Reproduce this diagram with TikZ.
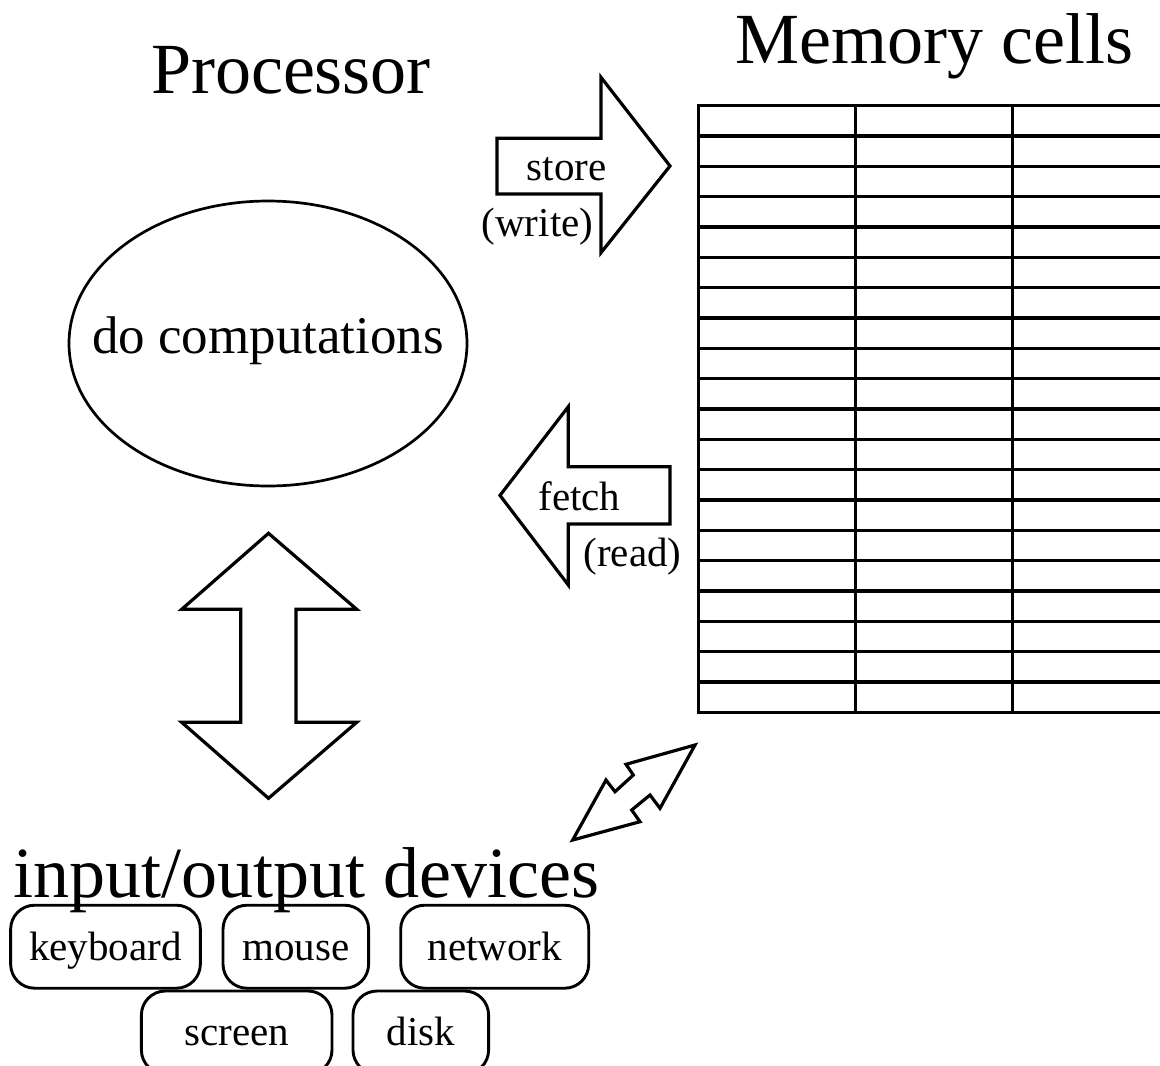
\documentclass[tikz,border=0pt]{standalone}
\usepackage{fontspec}
\setmainfont{Liberation Serif}
\begin{document}
\begin{tikzpicture}[x=1pt,y=-1pt,
  outline/.style={draw=black, line width=3.2pt, line join=miter},
  gridline/.style={draw=black, line width=3.3pt, line cap=rect},
  title/.style={font=\fontsize{72}{80}\selectfont, anchor=base, inner sep=0pt},
  caption/.style={font=\fontsize{41}{46}\selectfont, anchor=base, inner sep=0pt},
  device/.style={draw=black, line width=2.9pt, rounded corners=24pt, inner sep=0pt,
    minimum height=83pt, text height=30pt, text depth=3.4pt,
    font=\fontsize{41}{46}\selectfont},
]
\useasboundingbox (0,0) rectangle (1160,1066);
\clip (0,0) rectangle (1160,1066);

% headings
\node[title] (proc) at (291,93.3) {Processor};
\node[title] (mem) at (934.2,63.3) {Memory cells};
\node[title] (io) at (306.5,897) {input/output devices};

% processor
\node[inner sep=0pt, text height=36pt, text depth=16.4pt,
      font=\fontsize{53}{60}\selectfont] (cpu) at (268,343.5) {do computations};
\draw[black, line width=2.7pt] (cpu.center) ellipse [x radius=199pt, y radius=142.5pt];

% memory cells: 20 rows, columns running off to the right
\coordinate (memtl) at (698.3,105.7);
\foreach \i in {0,...,20}{
  \pgfmathsetmacro{\yy}{105.7+30.33*\i}
  \draw[gridline] (698.3,\yy) -- (1175,\yy);
}
\foreach \c in {698.3,855.7,1012.7}{
  \draw[gridline] (\c,105.7) -- (\c,712.3);
}

% store arrow (processor to memory)
\draw[outline] (497,138.3) -- (601,138.3) -- (601,77.3) -- (670,166)
  -- (601,252.7) -- (601,194) -- (497,194) -- cycle;
\node[caption] (store) at (566.7,180) {store};
\node[caption] (write) at (537.5,236.7) {(write)};

% fetch arrow (memory to processor)
\draw[outline] (670,466.7) -- (568.3,466.7) -- (568.3,406.7) -- (500,495.4)
  -- (568.3,585) -- (568.3,524) -- (670,524) -- cycle;
\node[caption] (fetch) at (579.5,510) {fetch};
\node[caption] (read) at (632.5,566.7) {(read)};

% processor <-> devices
\draw[outline] (268.5,533.3) -- (356.7,609.3) -- (296,609.3) -- (296,722.3)
  -- (356.7,722.3) -- (268.5,798.3) -- (181.7,722.3) -- (240.7,722.3)
  -- (240.7,609.3) -- (181.7,609.3) -- cycle;

% devices <-> memory
\draw[outline] (695,745) -- (626,764.3) -- (633.3,775) -- (615,791.7)
  -- (606,780) -- (572.7,840) -- (640,821.7) -- (631.7,810)
  -- (650,795) -- (660,808.3) -- cycle;

% devices
\node[device, minimum width=189.7pt] (keyboard) at (105.5,946.7) {keyboard};
\node[device, minimum width=145.6pt] (mouse) at (295.8,946.7) {mouse};
\node[device, minimum width=188pt] (network) at (494.7,946.7) {network};
\node[device, minimum width=190.6pt] (screen) at (236.7,1032.5) {screen};
\node[device, minimum width=135.6pt] (disk) at (420.8,1032.5) {disk};
\end{tikzpicture}
\end{document}
